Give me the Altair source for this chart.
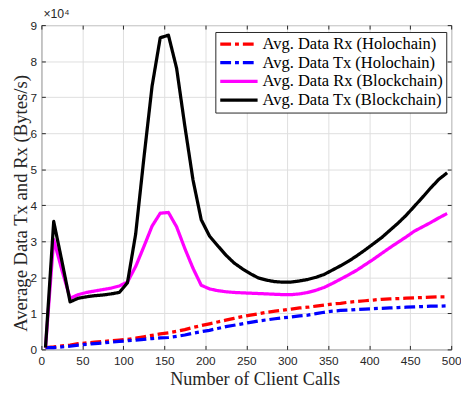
import altair as alt
import pandas as pd

calls = [5, 15, 25, 35, 45, 55, 65, 75, 85, 95,
         105, 115, 125, 135, 145, 155, 165, 175, 185, 195,
         205, 215, 225, 235, 245, 255, 265, 275, 285, 295,
         305, 315, 325, 335, 345, 355, 365, 375, 385, 395,
         405, 415, 425, 435, 445, 455, 465, 475, 485, 495]

# values in units of 10^4 Bytes/s
rx_holo = [0.05, 0.07, 0.10, 0.12, 0.16, 0.18, 0.20, 0.22, 0.24, 0.26,
           0.28, 0.31, 0.35, 0.39, 0.43, 0.46, 0.50, 0.55, 0.61, 0.66,
           0.71, 0.76, 0.81, 0.86, 0.91, 0.95, 0.99, 1.03, 1.06, 1.09,
           1.12, 1.15, 1.17, 1.20, 1.23, 1.26, 1.28, 1.31, 1.33, 1.35,
           1.37, 1.39, 1.40, 1.41, 1.42, 1.43, 1.44, 1.45, 1.46, 1.46]
tx_holo = [0.05, 0.05, 0.07, 0.09, 0.12, 0.14, 0.16, 0.18, 0.20, 0.22,
           0.24, 0.26, 0.28, 0.30, 0.32, 0.33, 0.36, 0.40, 0.45, 0.49,
           0.53, 0.58, 0.63, 0.67, 0.71, 0.75, 0.79, 0.82, 0.85, 0.88,
           0.90, 0.93, 0.95, 0.99, 1.03, 1.06, 1.08, 1.09, 1.11, 1.12,
           1.13, 1.14, 1.15, 1.16, 1.17, 1.18, 1.19, 1.20, 1.20, 1.21]
rx_block = [0.05, 3.05, 2.20, 1.42, 1.52, 1.58, 1.62, 1.66, 1.70, 1.76,
            1.87, 2.30, 2.85, 3.42, 3.78, 3.80, 3.40, 2.80, 2.25, 1.78,
            1.68, 1.63, 1.60, 1.58, 1.57, 1.56, 1.55, 1.54, 1.53, 1.52,
            1.52, 1.54, 1.58, 1.64, 1.72, 1.83, 1.95, 2.07, 2.20, 2.35,
            2.50, 2.66, 2.82, 2.97, 3.12, 3.28, 3.40, 3.52, 3.65, 3.77]
tx_block = [0.05, 3.55, 2.45, 1.32, 1.42, 1.46, 1.49, 1.51, 1.54, 1.58,
            1.85, 3.20, 5.30, 7.30, 8.65, 8.72, 7.80, 6.20, 4.70, 3.60,
            3.15, 2.88, 2.62, 2.40, 2.24, 2.10, 1.98, 1.92, 1.88, 1.865,
            1.87, 1.90, 1.94, 2.00, 2.08, 2.20, 2.32, 2.45, 2.60, 2.76,
            2.93, 3.10, 3.30, 3.50, 3.72, 3.97, 4.22, 4.48, 4.72, 4.90]

names = ["Avg. Data Rx (Holochain)", "Avg. Data Tx (Holochain)",
         "Avg. Data Rx (Blockchain)", "Avg. Data Tx (Blockchain)"]
colors = ["#ff0000", "#0000ff", "#ff00ff", "#000000"]
dashes = [[11, 4, 4, 4], [11, 4, 4, 4], [1, 0], [1, 0]]
x_ticks = [0, 50, 100, 150, 200, 250, 300, 350, 400, 450, 500]
y_ticks = [0, 1, 2, 3, 4, 5, 6, 7, 8, 9]

rows = []
for n, vals in zip(names, [rx_holo, tx_holo, rx_block, tx_block]):
    for c, v in zip(calls, vals):
        rows.append({"calls": c, "value": v, "series": n})
df = pd.DataFrame(rows)

AX = "#262626"
xscale = alt.Scale(domain=[0, 500], nice=False)
yscale = alt.Scale(domain=[0, 9], nice=False)

legend_cfg = dict(
    title=None, orient="none", legendX=177, legendY=7,
    strokeColor=AX, fillColor="white", padding=3,
    symbolType="stroke", symbolSize=1444, symbolStrokeWidth=3.3,
    clipHeight=18.5, rowPadding=0, labelOffset=3,
    labelFont="Liberation Serif", labelFontSize=16.8, labelColor="#000000",
    labelLimit=400,
)
color = alt.Color("series:N", scale=alt.Scale(domain=names, range=colors),
                  legend=alt.Legend(**legend_cfg))
dash = alt.StrokeDash("series:N", scale=alt.Scale(domain=names, range=dashes),
                      legend=alt.Legend(**legend_cfg))

main_x = alt.Axis(values=x_ticks, title="Number of Client Calls", grid=True,
                  gridColor="#dedede", ticks=False, domain=False,
                  labelFont="Liberation Sans", labelFontSize=12, labelColor=AX,
                  labelPadding=6, labelFlush=False,
                  titleFont="Liberation Serif", titleFontSize=18.5,
                  titleFontWeight="normal", titleColor=AX,
                  titleX=217, titleY=30, titleAlign="center",
                  titleBaseline="middle")
main_y = alt.Axis(values=y_ticks, title="Average Data Tx and Rx (Bytes/s)",
                  grid=True, gridColor="#dedede", ticks=False, domain=False,
                  format="d",
                  labelFont="Liberation Sans", labelFontSize=12, labelColor=AX,
                  labelPadding=5, labelFlush=False,
                  titleFont="Liberation Serif", titleFontSize=19,
                  titleFontWeight="normal", titleColor=AX,
                  titleX=-21, titleY=181, titleAngle=270, titleAlign="center",
                  titleBaseline="middle")

layers = []
for i, n in enumerate(names):
    xa = main_x if i == 0 else None
    ya = main_y if i == 0 else None
    layer = alt.Chart(df).transform_filter(alt.datum.series == n).mark_line(
        strokeWidth=3.3, strokeJoin="round").encode(
        x=alt.X("calls:Q", scale=xscale, axis=xa),
        y=alt.Y("value:Q", scale=yscale, axis=ya),
        color=color, strokeDash=dash,
    )
    layers.append(layer)


def tick_axis(orient, values):
    return alt.Axis(orient=orient, offset=-4, tickSize=4, tickColor=AX,
                    labels=False, domain=False, grid=False, title=None,
                    values=values)


ticks_a = alt.Chart(df).mark_point(opacity=0).encode(
    x=alt.X("calls:Q", scale=xscale, axis=tick_axis("bottom", x_ticks)),
    y=alt.Y("value:Q", scale=yscale, axis=tick_axis("left", y_ticks)),
)
ticks_b = alt.Chart(df).mark_point(opacity=0).encode(
    x=alt.X("calls:Q", scale=xscale, axis=tick_axis("top", x_ticks)),
    y=alt.Y("value:Q", scale=yscale, axis=tick_axis("right", y_ticks)),
)

chart = alt.layer(*layers, ticks_a, ticks_b).resolve_axis(
    x="independent", y="independent"
).properties(
    width=417, height=330,
    padding={"left": 34, "top": 14, "right": 10, "bottom": 43},
    autosize=alt.AutoSizeParams(type="none"),
    title=alt.TitleParams("×10⁴", anchor="start", frame="group",
                          font="Liberation Sans", fontSize=12.5,
                          fontWeight="normal", color=AX, offset=3, dx=2,
                          dy=4),
).configure_view(stroke="#555555", strokeWidth=1)

chart.save("out.html", embed_options={"renderer": "svg", "actions": False})
